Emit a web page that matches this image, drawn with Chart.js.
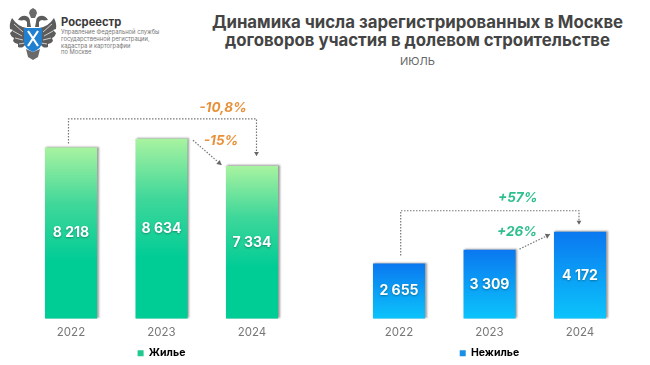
<!DOCTYPE html>
<html lang="ru">
<head>
<meta charset="utf-8">
<title>Динамика ДДУ</title>
<script src="https://cdn.jsdelivr.net/npm/chart.js@4"></script>
<style>
    html, body { margin: 0; padding: 0; background: #fff; }
    body { width: 650px; height: 365px; position: relative; overflow: hidden; font-family: Inter, "Noto Sans", sans-serif; }
    canvas { position: absolute; top: 0; }
    #chart-left { left: 0; }
    #chart-right { left: 325px; }
    .head { position: absolute; left: 190px; width: 455px; text-align: center; white-space: nowrap; }
    #title { top: 12.5px; font-size: 16.8px; line-height: 18px; font-weight: 700; color: #444; }
    #period { top: 55px; font-size: 11px; line-height: 13px; color: #666; }
    #logo { position: absolute; left: 8px; top: 7px; filter: blur(.3px); }
    #org { position: absolute; left: 61px; top: 15px; color: #3a3a3a; }
    #org b { display: block; font-size: 11.2px; line-height: 14px; }
    #org span { display: block; font-size: 5.8px; line-height: 6.8px; color: #777; white-space: nowrap; }
</style>
</head>
<body>
<svg id="logo" width="50" height="54" viewBox="0 0 50 54">
    <path d="M19 21 Q10 20 4 11 Q1 17 2 22 L5 23 L2 26 Q3 30 6 31 L5 34 Q7 37 10 37 L10 40 Q13 41 15 40 L20 35Z" fill="#5c5c5c"/>
    <path d="M31 21 Q40 20 46 11 Q49 17 48 22 L45 23 L48 26 Q47 30 44 31 L45 34 Q43 37 40 37 L40 40 Q37 41 35 40 L30 35Z" fill="#5c5c5c"/>
    <path d="M6 17 L15 25 M5 24 L14 29 M7 31 L15 33 M11 37 L17 36 M44 17 L35 25 M45 24 L36 29 M43 31 L35 33 M39 37 L33 36" stroke="#fff" stroke-width=".7" fill="none"/>
    <path d="M10 13 Q13 8 18 9 Q22 10 22 15 L23 20 L19 20 L19 15 Q17 12 14 13.5Z" fill="#5c5c5c"/>
    <path d="M40 13 Q37 8 32 9 Q28 10 28 15 L27 20 L31 20 L31 15 Q33 12 36 13.5Z" fill="#5c5c5c"/>
    <path d="M21 6 L22 3 L25 1 L28 3 L29 6 L27 11 L23 11Z" fill="#6a6a6a"/>
    <path d="M18 42 L20 50 L25 53 L30 50 L32 42 L25 45Z" fill="#6a6a6a"/>
    <path d="M16 21 H34 V35 Q34 41 25 45 Q16 41 16 35Z" fill="#1f7fd0"/>
    <path d="M20 24 L30 39 M30 24 L20 39" stroke="#fff" stroke-width="2.2"/>
</svg>
<div id="org">
    <b>Росреестр</b>
    <span>Управление Федеральной службы</span>
    <span>государственной регистрации,</span>
    <span>кадастра и картографии</span>
    <span>по Москве</span>
</div>
<div id="title" class="head">Динамика числа зарегистрированных в Москве<br>договоров участия в долевом строительстве</div>
<div id="period" class="head">ИЮЛЬ</div>
<canvas id="chart-left" width="325" height="365"></canvas>
<canvas id="chart-right" width="325" height="365"></canvas>
<script>
// данные графика
const years = ["2022", "2023", "2024"];
const housingValues = [8218, 8634, 7334];
const commercialValues = [2655, 3309, 4172];
const valueLabelsHousing = ["8 218", "8 634", "7 334"];
const valueLabelsCommercial = ["2 655", "3 309", "4 172"];
const Y_MAX = 10000;
const FONT = "Inter, 'Noto Sans', sans-serif";

// рисуем подпись внутри столбца
const barLabelsPlugin = {
    id: "barLabels",
    afterDatasetsDraw(chart, args, opts) {
        const ctx = chart.ctx;
        ctx.save();
        ctx.font = "700 14px " + FONT;
        ctx.textAlign = "center";
        ctx.textBaseline = "middle";
        ctx.fillStyle = "#fff";
        ctx.shadowColor = "rgba(0,60,50,.45)";
        ctx.shadowBlur = 2;
        ctx.shadowOffsetY = 1;
        chart.getDatasetMeta(0).data.forEach((bar, i) => {
            ctx.fillText(opts.labels[i], bar.x, (bar.y + bar.base) / 2);
        });
        ctx.restore();
    }
};

// тень столбцов
const barShadowPlugin = {
    id: "barShadow",
    beforeDatasetsDraw(chart) {
        const ctx = chart.ctx;
        ctx.save();
        ctx.shadowColor = "rgba(0,0,0,.4)";
        ctx.shadowBlur = 2;
        ctx.shadowOffsetX = 1.5;
        ctx.shadowOffsetY = -0.5;
    },
    afterDatasetsDraw(chart) {
        chart.ctx.restore();
    }
};

function dottedLine(ctx, pts, arrowSize) {
    ctx.save();
    ctx.strokeStyle = "#777";
    ctx.fillStyle = "#666";
    ctx.lineWidth = 1.2;
    ctx.setLineDash([1.5, 1.5]);
    ctx.beginPath();
    pts.forEach((p, i) => i ? ctx.lineTo(p[0], p[1]) : ctx.moveTo(p[0], p[1]));
    ctx.stroke();
    const a = pts[pts.length - 2], b = pts[pts.length - 1];
    const ang = Math.atan2(b[1] - a[1], b[0] - a[0]);
    ctx.setLineDash([]);
    ctx.translate(b[0], b[1]);
    ctx.rotate(ang);
    ctx.beginPath();
    ctx.moveTo(0, 0);
    ctx.lineTo(-arrowSize, -arrowSize * 0.6);
    ctx.lineTo(-arrowSize, arrowSize * 0.6);
    ctx.closePath();
    ctx.fill();
    ctx.restore();
}

function changeText(ctx, text, x, y, color) {
    ctx.save();
    ctx.font = "italic 700 13.5px " + FONT;
    ctx.textAlign = "center";
    ctx.textBaseline = "middle";
    ctx.fillStyle = color;
    ctx.fillText(text, x, y);
    ctx.restore();
}

// стрелки и проценты считаем от шкал графика
const changesPlugin = {
    id: "changes",
    afterDraw(chart, args, o) {
        const ctx = chart.ctx;
        const xs = chart.scales.x, ys = chart.scales.y;
        const vals = chart.data.datasets[0].data;
        const x = i => xs.getPixelForValue(i);
        const top = i => ys.getPixelForValue(vals[i]);
        const bracketY = ys.getPixelForValue(o.bracketValue);
        dottedLine(ctx, [
            [x(0) + o.startDx, top(0) - o.startGap],
            [x(0) + o.startDx, bracketY],
            [x(2) + o.endDx, bracketY],
            [x(2) + o.endDx, top(2) - o.endGap]
        ], 4);
        dottedLine(ctx, [
            [x(1) + o.stepFrom[0], top(1) + o.stepFrom[1]],
            [x(2) + o.stepTo[0], top(2) + o.stepTo[1]]
        ], 4.5);
        changeText(ctx, o.totalText, x(2) + o.totalPos[0], bracketY + o.totalPos[1], o.color);
        changeText(ctx, o.stepText, x(2) + o.stepPos[0], top(2) + o.stepPos[1], o.color);
    }
};

function makeChart(id, label, values, labels, colors, legendColor, padLeft, padRight, changes) {
    return new Chart(document.getElementById(id), {
        type: "bar",
        data: {
            labels: years,
            datasets: [{
                label: label,
                data: values,
                barPercentage: 0.575,
                categoryPercentage: 1,
                backgroundColor(c) {
                    const chart = c.chart;
                    if (!chart.chartArea || c.dataIndex === undefined) return colors[colors.length - 1];
                    const y = chart.scales.y;
                    const t = y.getPixelForValue(values[c.dataIndex]);
                    const g = chart.ctx.createLinearGradient(0, t, 0, y.getPixelForValue(0));
                    colors.forEach((col, i) => g.addColorStop(i / (colors.length - 1), col));
                    return g;
                }
            }]
        },
        options: {
            responsive: false,
            animation: false,
            layout: { padding: { left: padLeft, right: padRight, top: 110.3, bottom: -3.5 } },
            scales: {
                x: {
                    grid: { display: false, drawTicks: false },
                    border: { display: false },
                    ticks: { padding: 6.7, color: "#777", font: { family: FONT, size: 11.5 } }
                },
                y: { display: false, min: 0, max: Y_MAX }
            },
            plugins: {
                tooltip: { enabled: false },
                legend: {
                    position: "bottom",
                    labels: {
                        usePointStyle: true,
                        pointStyle: "rect",
                        boxWidth: 6,
                        boxHeight: 6,
                        padding: 2,
                        color: "#555",
                        font: { family: FONT, size: 10.5, weight: "700" },
                        generateLabels: () => [{ text: label, fillStyle: legendColor, strokeStyle: legendColor, lineWidth: 0, pointStyle: "rect", datasetIndex: 0 }]
                    }
                },
                barLabels: { labels: labels },
                changes: changes
            }
        },
        plugins: [barShadowPlugin, barLabelsPlugin, changesPlugin]
    });
}

makeChart("chart-left", "Жилье", housingValues, valueLabelsHousing,
    ["#a8f3a0", "#3fd79a", "#00cc96", "#00cc96"], "#1fc98f", 25.75, 27.75, {
        bracketValue: 9584, startDx: -2.5, startGap: 4, endDx: 4.5, endGap: 10,
        stepFrom: [31.5, 1.5], stepTo: [-30.5, -1],
        totalText: "-10,8%", totalPos: [-29, -11], stepText: "-15%", stepPos: [-31, -24.5],
        color: "#e8913a"
    });

makeChart("chart-right", "Нежилье", commercialValues, valueLabelsCommercial,
    ["#0a78f0", "#0cc4fb"], "#1a8fe8", 28.75, 24.75, {
        bracketValue: 5182, startDx: 1.7, startGap: 8, endDx: -1, endGap: 7,
        stepFrom: [30, -0.7], stepTo: [-30, 2.5],
        totalText: "+57%", totalPos: [-62.3, -12.7], stepText: "+26%", stepPos: [-63, 0.5],
        color: "#2fbf8f"
    });
</script>
</body>
</html>
